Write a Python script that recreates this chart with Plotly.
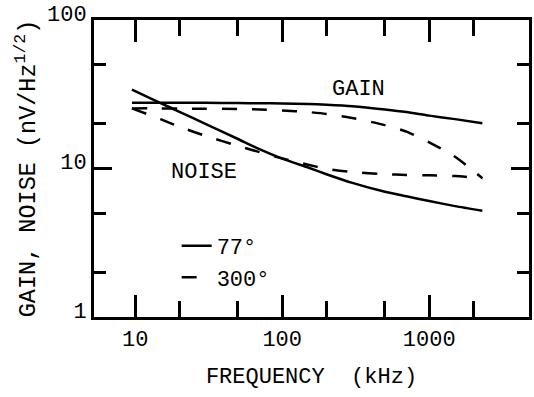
import numpy as np
import plotly.graph_objects as go

# ---- data ----
freq_khz = [9.5, 15, 20, 30, 50, 70, 100, 150, 200, 300, 500, 700, 1000, 1500, 2300]
gain_77 = [27.7, 27.7, 27.7, 27.7, 27.6, 27.5, 27.4, 27.2, 26.9, 26.3, 25.0, 24.0, 22.7, 21.5, 20.2]
gain_300 = [25.4, 25.4, 25.3, 25.3, 25.2, 25.0, 24.6, 24.0, 23.3, 21.9, 19.6, 17.7, 15.0, 12.0, 8.6]
noise_77 = [34.0, 27.5, 24.1, 20.0, 15.8, 13.5, 11.65, 10.15, 9.15, 8.0, 6.97, 6.5, 6.04, 5.58, 5.2]
noise_300 = [25.4, 21.4, 19.1, 16.6, 14.2, 12.9, 11.7, 10.6, 9.95, 9.46, 9.15, 9.05, 9.0, 8.9, 8.6]

x_major = [10, 100, 1000]
x_major_text = ["10", "100", "1000"]
x_minor = [20, 50, 200, 500, 2000]
y_major = [1, 10, 100]
y_major_text = ["1", "10", "100"]
y_minor = [2, 5, 20, 50]

legend_names = ["77°", "300°"]
curve_labels = ["GAIN", "NOISE"]
x_title = "FREQUENCY\u00a0\u00a0(kHz)"
y_title = "GAIN, NOISE (nV/Hz<sup>1/2</sup>)"

FONT = "Liberation Mono"
INK = "black"
DASH = "15px,15px"

fig = go.Figure()
fig.add_trace(go.Scatter(x=freq_khz, y=gain_77, mode="lines", name=legend_names[0],
                         line=dict(color=INK, width=2.5, shape="spline", smoothing=0.6)))
fig.add_trace(go.Scatter(x=freq_khz, y=gain_300, mode="lines", name=legend_names[1],
                         line=dict(color=INK, width=2.5, dash=DASH, shape="spline", smoothing=0.6)))
fig.add_trace(go.Scatter(x=freq_khz, y=noise_77, mode="lines", showlegend=False,
                         line=dict(color=INK, width=2.5, shape="spline", smoothing=0.6)))
fig.add_trace(go.Scatter(x=freq_khz, y=noise_300, mode="lines", showlegend=False,
                         line=dict(color=INK, width=2.5, dash=DASH, shape="spline", smoothing=0.6)))

fig.add_annotation(x=np.log10(330), y=np.log10(33.8), text=curve_labels[0], showarrow=False,
                   font=dict(family=FONT, size=22, color=INK))
fig.add_annotation(x=np.log10(29.5), y=np.log10(9.4), text=curve_labels[1], showarrow=False,
                   font=dict(family=FONT, size=22, color=INK))

fig.update_layout(
    width=534, height=397,
    margin=dict(l=94, r=2, t=20, b=80),
    paper_bgcolor="white", plot_bgcolor="white",
    font=dict(family=FONT, size=22, color=INK),
    showlegend=True,
    legend=dict(x=0.19, y=0.31, xanchor="left", yanchor="top",
                bgcolor="rgba(0,0,0,0)", font=dict(family=FONT, size=22, color=INK),
                tracegroupgap=0, itemwidth=30),
    xaxis=dict(type="log", range=[0.7196, 3.679],
               tickmode="array", tickvals=x_major, ticktext=x_major_text,
               ticks="inside", ticklen=22, tickwidth=2.5, tickcolor=INK,
               minor=dict(tickmode="array", tickvals=x_minor, ticks="inside", ticklen=16,
                          tickwidth=2.5, tickcolor=INK, showgrid=False),
               showline=True, linewidth=3, linecolor=INK, mirror="ticks",
               showgrid=False, zeroline=False,
               tickfont=dict(family=FONT, size=22, color=INK),
               title=dict(text=x_title, standoff=16,
                          font=dict(family=FONT, size=22, color=INK))),
    yaxis=dict(type="log", range=[0, 2],
               tickmode="array", tickvals=y_major, ticktext=y_major_text,
               ticks="inside", ticklen=18, tickwidth=2.5, tickcolor=INK,
               minor=dict(tickmode="array", tickvals=y_minor, ticks="inside", ticklen=12,
                          tickwidth=2.5, tickcolor=INK, showgrid=False),
               showline=True, linewidth=3, linecolor=INK, mirror="ticks",
               showgrid=False, zeroline=False, ticklabelshift=-7,
               tickfont=dict(family=FONT, size=22, color=INK),
               title=dict(text=y_title, standoff=5,
                          font=dict(family=FONT, size=23.5, color=INK))),
)

fig.write_html("out.html")
